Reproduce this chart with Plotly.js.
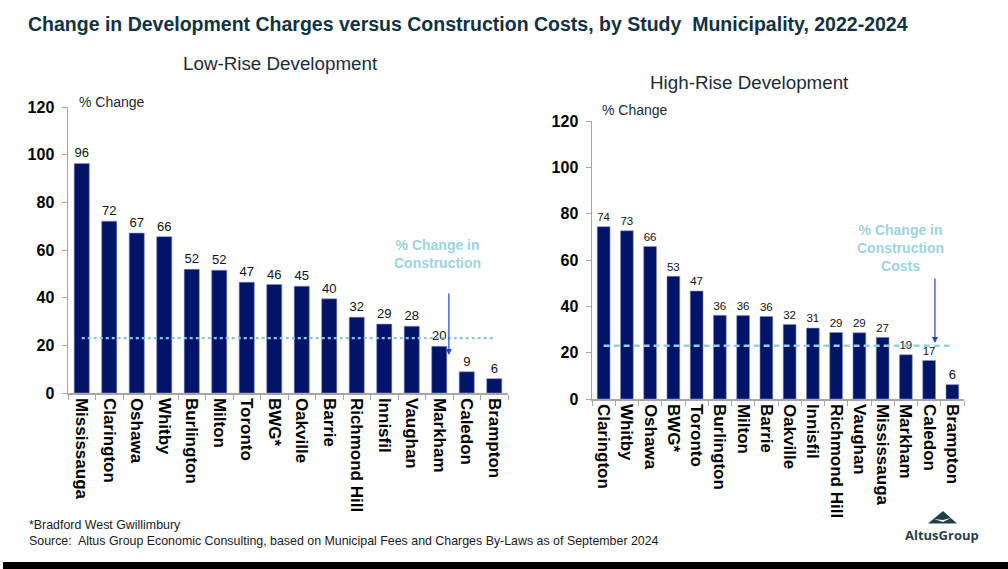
<!DOCTYPE html>
<html>
<head>
<meta charset="utf-8">
<script src="https://cdn.plot.ly/plotly-3.0.1.min.js"></script>
<style>html,body{margin:0;padding:0;background:#fff;}#chart{width:1008px;height:569px;}</style>
</head>
<body>
<div id="chart"></div>
<script>
// ---- data ----
const lowCats = ["Mississauga","Clarington","Oshawa","Whitby","Burlington","Milton","Toronto","BWG*","Oakville","Barrie","Richmond Hill","Innisfil","Vaughan","Markham","Caledon","Brampton"];
const lowVals = [96.3,72.1,67.1,65.6,51.9,51.5,46.5,45.5,44.8,39.5,31.8,28.9,28.0,19.6,8.9,6.0];
const highCats = ["Clarington","Whitby","Oshawa","BWG*","Toronto","Burlington","Milton","Barrie","Oakville","Innisfil","Richmond Hill","Vaughan","Mississauga","Markham","Caledon","Brampton"];
const highVals = [74.4,72.6,65.8,53.0,46.6,36.1,36.0,35.6,32.2,30.6,28.7,28.6,26.6,19.1,16.6,6.2];
const constructionChangeLow = 23;
const constructionChangeHigh = 23;
const yTicks = [0,20,40,60,80,100,120];

// ---- helpers (pixel -> paper) ----
const W = 1008, H = 569;
const px = x => x / W;
const py = y => 1 - y / H;

const FONT = "Arial, 'Liberation Sans', sans-serif";
const BAR = "#02146A";

const traces = [
  {type:"bar", x: lowCats, y: lowVals, xaxis:"x", yaxis:"y",
   marker:{color:BAR, line:{color:"#8890B8", width:0.6}},
   texttemplate:"%{y:.0f}", textposition:"outside", cliponaxis:false,
   textfont:{family:FONT, size:13, color:"#111"}, hoverinfo:"x+y"},
  {type:"bar", x: highCats, y: highVals, xaxis:"x2", yaxis:"y2",
   marker:{color:BAR, line:{color:"#8890B8", width:0.6}},
   texttemplate:"%{y:.0f}", textposition:"outside", cliponaxis:false,
   textfont:{family:FONT, size:13, color:"#111"}, hoverinfo:"x+y"}
];

const xCommon = {
  type:"category", tickangle:90, showline:true, linecolor:"#A6A6A6", linewidth:1.5,
  ticks:"outside", tickson:"boundaries", ticklen:5, tickcolor:"#A6A6A6",
  tickfont:{family:FONT, size:17, color:"#000", weight:"bold"},
  showgrid:false, zeroline:false, fixedrange:true
};
const yCommon = {
  range:[0,120], tickvals:yTicks, showline:true, linecolor:"#A6A6A6", linewidth:1.5,
  ticks:"outside", ticklen:5, tickcolor:"#A6A6A6",
  tickfont:{family:FONT, size:16, color:"#000", weight:"bold"},
  showgrid:false, zeroline:false, fixedrange:true, ticklabelstandoff:4
};

const layout = {
  width:W, height:H, margin:{l:0,r:0,t:0,b:0},
  paper_bgcolor:"#fff", plot_bgcolor:"rgba(0,0,0,0)",
  showlegend:false, bargap:0.45,
  font:{family:FONT},
  xaxis: Object.assign({}, xCommon, {domain:[px(68), px(508)], anchor:"y"}),
  yaxis: Object.assign({}, yCommon, {domain:[py(393), py(107)], anchor:"x"}),
  xaxis2: Object.assign({}, xCommon, {domain:[px(592), px(964)], anchor:"y2"}),
  yaxis2: Object.assign({}, yCommon, {domain:[py(399), py(121)], anchor:"x2"}),
  shapes:[
    {type:"line", xref:"x", yref:"y", x0:lowCats[0], x1:lowCats[lowCats.length-1],
     y0:constructionChangeLow, y1:constructionChangeLow,
     line:{color:"#86C9D4", width:2.2, dash:"dot"}},
    {type:"line", xref:"x2", yref:"y2", x0:highCats[0], x1:highCats[highCats.length-1],
     y0:constructionChangeHigh, y1:constructionChangeHigh,
     line:{color:"#96D0DA", width:2.5, dash:"6px,4px"}},
    // bottom bar
    {type:"rect", xref:"paper", yref:"paper", x0:px(3), x1:1, y0:0, y1:py(562),
     fillcolor:"#000", line:{width:0}},
    // logo mountain
    {type:"path", xref:"paper", yref:"paper",
     path:`M${px(928)},${py(523.5)} L${px(943)},${py(511)} L${px(957)},${py(523.5)} Z`,
     fillcolor:"#1E3F48", line:{width:0}},
    {type:"path", xref:"paper", yref:"paper",
     path:`M${px(934)},${py(519)} L${px(943)},${py(522)} L${px(951)},${py(518)} L${px(943)},${py(520)} Z`,
     fillcolor:"#fff", line:{width:0}}
  ],
  annotations:[
    {xref:"paper", yref:"paper", x:px(26), y:py(24), xanchor:"left", yanchor:"middle", showarrow:false,
     text:"Change in Development Charges versus Construction Costs, by Study  Municipality, 2022-2024",
     font:{family:FONT, size:19.5, color:"#12323F", weight:"bold"}},
    {xref:"paper", yref:"paper", x:px(280), y:py(64), xanchor:"center", yanchor:"middle", showarrow:false,
     text:"Low-Rise Development", font:{family:FONT, size:18.8, color:"#1B2B38"}},
    {xref:"paper", yref:"paper", x:px(749), y:py(83), xanchor:"center", yanchor:"middle", showarrow:false,
     text:"High-Rise Development", font:{family:FONT, size:18.8, color:"#1B2B38"}},
    {xref:"paper", yref:"paper", x:px(77), y:py(102), xanchor:"left", yanchor:"middle", showarrow:false,
     text:"% Change", font:{family:FONT, size:14, color:"#1B2B38"}},
    {xref:"paper", yref:"paper", x:px(600), y:py(110), xanchor:"left", yanchor:"middle", showarrow:false,
     text:"% Change", font:{family:FONT, size:14, color:"#1B2B38"}},
    {xref:"paper", yref:"paper", x:px(437), y:py(254), xanchor:"center", yanchor:"middle", showarrow:false,
     text:"% Change in<br>Construction", font:{family:FONT, size:14, color:"#9DD3DC", weight:"bold"}},
    {xref:"paper", yref:"paper", x:px(900), y:py(248), xanchor:"center", yanchor:"middle", showarrow:false,
     text:"% Change in<br>Construction<br>Costs", font:{family:FONT, size:14, color:"#9DD3DC", weight:"bold"}},
    // arrows
    {xref:"x", yref:"y", axref:"x", ayref:"y", x:13.35, y:15.9, ax:13.35, ay:42.4, text:"",
     showarrow:true, arrowhead:2, arrowsize:1, arrowwidth:1.2, arrowcolor:"#1F3FD0"},
    {xref:"x2", yref:"y2", axref:"x2", ayref:"y2", x:14.25, y:24.2, ax:14.25, ay:52.7, text:"",
     showarrow:true, arrowhead:2, arrowsize:1, arrowwidth:1.2, arrowcolor:"#1F3FD0"},
    // footnotes
    {xref:"paper", yref:"paper", x:px(27), y:py(525), xanchor:"left", yanchor:"middle", showarrow:false,
     text:"*Bradford West Gwillimbury", font:{family:FONT, size:12.4, color:"#1A1A1A"}},
    {xref:"paper", yref:"paper", x:px(27), y:py(541), xanchor:"left", yanchor:"middle", showarrow:false,
     text:"Source:  Altus Group Economic Consulting, based on Municipal Fees and Charges By-Laws as of September 2024",
     font:{family:FONT, size:12.4, color:"#1A1A1A"}},
    // logo text
    {xref:"paper", yref:"paper", x:px(942), y:py(535), xanchor:"center", yanchor:"middle", showarrow:false,
     text:"AltusGroup", font:{family:"'Open Sans', Arial, sans-serif", size:13, color:"#2E3E48", weight:"bold"}}
  ]
};

Plotly.newPlot("chart", traces, layout, {displayModeBar:false, staticPlot:true});
</script>
</body>
</html>
